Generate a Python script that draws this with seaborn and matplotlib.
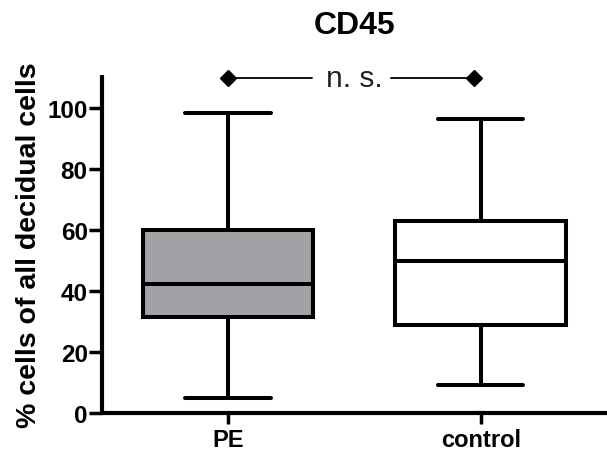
import numpy as np
import pandas as pd
import matplotlib
matplotlib.use("Agg")
import matplotlib.pyplot as plt
import seaborn as sns

# five-number summaries (min, Q1, median, Q3, max)
categories = ["PE", "control"]
pe_values = [5.1, 31.7, 42.4, 60.1, 98.4]
control_values = [9.3, 28.9, 49.8, 63.1, 96.5]
yticks = [0, 20, 40, 60, 80, 100]
title = "CD45"
ylabel = "% cells of all decidual cells"
sig_label = "n. s."
sig_y = 109.8

df = pd.DataFrame({
    "group": [categories[0]] * len(pe_values) + [categories[1]] * len(control_values),
    "value": pe_values + control_values,
})

sns.set_style("ticks")
plt.rcParams["font.family"] = ["Liberation Sans", "DejaVu Sans"]
plt.rcParams["text.color"] = "black"
plt.rcParams["axes.labelcolor"] = "black"

fig = plt.figure(figsize=(6.07, 4.52), dpi=100)
ax = fig.add_axes([0.1674, 0.0834, 0.8326, 0.749])

sns.boxplot(data=df, x="group", y="value", hue="group", order=categories,
            hue_order=categories, palette=["#a2a1a6", "white"], saturation=1,
            whis=(0, 100), width=0.674, linewidth=2.9, linecolor="black",
            fliersize=0, legend=False, ax=ax,
            capprops={"solid_capstyle": "round"})

ax.set_xlim(-0.5, 1.5)
ax.set_ylim(0, 111)
ax.set_yticks(yticks)
ax.set_xlabel("")
ax.set_ylabel(ylabel, fontsize=20.5, fontweight="bold", labelpad=4, color="black")
ax.set_title(title, fontsize=23, fontweight="bold", pad=30, color="black")

for side in ["top", "right"]:
    ax.spines[side].set_visible(False)
for side in ["left", "bottom"]:
    ax.spines[side].set_linewidth(3)
    ax.spines[side].set_color("black")
    ax.spines[side].set_capstyle("butt")

ax.tick_params(axis="y", length=9.5, width=2.5, pad=0.5, labelsize=17.5,
               color="black", labelcolor="black")
ax.tick_params(axis="x", length=8, width=2.5, pad=2.5, labelsize=17,
               color="black", labelcolor="black")
for lab in ax.get_xticklabels() + ax.get_yticklabels():
    lab.set_fontweight("bold")

# significance bracket
ax.plot([0, 0.334], [sig_y, sig_y], color="black", lw=1.3, clip_on=False)
ax.plot([0.645, 0.975], [sig_y, sig_y], color="black", lw=1.3, clip_on=False)
ax.plot([0, 0.975], [sig_y, sig_y], linestyle="none", marker="D", markersize=8,
        color="black", clip_on=False)
ax.text(0.5, 107.4, sig_label, ha="center", va="baseline", fontsize=21.5,
        color="#222222")

fig.savefig("out.png", dpi=100)
